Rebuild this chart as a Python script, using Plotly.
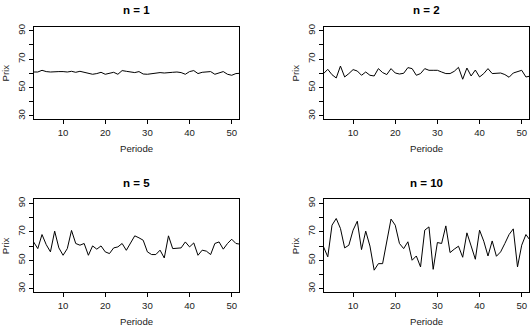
import plotly.graph_objects as go

periode = list(range(3, 53))

prix_n1 = [60.9, 60.9, 62.1, 61.2, 60.9, 61.2, 61.2, 61.2, 60.9, 61.4,
           60.7, 61.4, 60.7, 60.0, 59.3, 59.8, 60.7, 59.3, 59.8, 60.7,
           59.3, 61.9, 61.4, 60.9, 60.5, 61.2, 59.5, 59.3, 59.8, 60.0,
           60.5, 60.2, 60.2, 60.7, 60.9, 60.5, 59.3, 61.2, 61.9, 59.8,
           60.7, 61.2, 61.2, 59.3, 60.2, 61.2, 59.3, 58.6, 59.8, 60.0]

prix_n2 = [59.8, 62.8, 59.0, 56.7, 65.1, 57.4, 59.8, 62.6, 61.6, 58.6,
           60.9, 58.6, 58.1, 63.3, 60.5, 59.1, 63.3, 60.2, 59.5, 60.0,
           64.0, 63.3, 58.6, 59.8, 63.3, 62.1, 62.1, 62.1, 60.9, 59.8,
           59.8, 61.4, 64.2, 55.8, 63.7, 58.1, 62.3, 57.4, 59.8, 63.3,
           59.8, 60.2, 60.2, 59.1, 57.2, 60.2, 61.4, 62.1, 57.4, 58.0]

prix_n5 = [62.9, 58.2, 68.1, 61.0, 55.9, 70.5, 58.7, 53.5, 58.2, 71.0,
           61.8, 60.6, 61.8, 53.5, 60.1, 57.8, 60.1, 55.9, 54.7, 58.7,
           59.4, 61.8, 57.0, 61.8, 67.2, 65.8, 64.1, 55.9, 54.0, 54.0,
           57.1, 51.6, 67.2, 58.2, 58.2, 58.7, 62.9, 59.4, 62.2, 53.5,
           57.1, 56.4, 54.0, 61.8, 62.9, 57.8, 61.8, 64.8, 61.8, 61.3]

prix_n10 = [59.4, 52.4, 74.7, 79.4, 72.4, 58.7, 60.6, 71.2, 77.5, 57.5,
            70.5, 60.0, 43.0, 47.6, 47.6, 63.0, 79.0, 74.7, 61.8, 58.2,
            63.0, 50.0, 53.0, 45.3, 71.2, 73.5, 43.6, 62.5, 61.8, 74.2,
            55.4, 57.8, 59.9, 52.1, 69.3, 60.1, 50.7, 71.2, 63.4, 53.0,
            63.6, 52.8, 55.9, 61.8, 68.1, 72.1, 45.3, 60.6, 68.1, 64.0]

titres = ["n = 1", "n = 2", "n = 5", "n = 10"]
series = [prix_n1, prix_n2, prix_n5, prix_n10]
x_ticks = [10, 20, 30, 40, 50]
y_ticks = [30, 40, 50, 60, 70, 80, 90]
y_labels = ["30", "", "50", "", "70", "", "90"]

W, H = 530, 329
# panel boxes in pixels: (left, right, top, bottom)
boxes = [(34, 239.3, 24, 117.3), (324, 529.3, 24, 117.3),
         (34, 239.3, 198.3, 291.7), (324, 529.3, 198.3, 291.7)]

FONT = "Liberation Sans, Arial, sans-serif"
fig = go.Figure()
annotations = []
layout = {}
for i, (ys, titre, (l, r, t, b)) in enumerate(zip(series, titres, boxes)):
    k = "" if i == 0 else str(i + 1)
    fig.add_trace(go.Scatter(x=periode, y=ys, mode="lines",
                             line=dict(color="black", width=1),
                             xaxis="x" + k, yaxis="y" + k,
                             showlegend=False, hoverinfo="skip"))
    layout["xaxis" + k] = dict(domain=[l / W, r / W], anchor="y" + k,
                               range=[3.1, 51.8], tickvals=x_ticks,
                               ticks="outside", ticklen=4, tickwidth=1,
                               tickcolor="black", showline=True, mirror=True,
                               linecolor="black", linewidth=1, showgrid=False,
                               zeroline=False,
                               tickfont=dict(family=FONT, size=9.6, color="#222"))
    layout["yaxis" + k] = dict(domain=[1 - b / H, 1 - t / H], anchor="x" + k,
                               range=[27.6, 92.8], tickvals=y_ticks,
                               ticktext=y_labels, tickangle=-90,
                               ticks="outside", ticklen=4, tickwidth=1,
                               tickcolor="black", showline=True, mirror=True,
                               linecolor="black", linewidth=1, showgrid=False,
                               zeroline=False,
                               tickfont=dict(family=FONT, size=9.6, color="#222"))
    cx = (l + r) / 2 / W
    annotations.append(dict(text="<b>" + titre + "</b>", x=cx, y=1 - (t - 16.7) / H,
                            xref="paper", yref="paper", showarrow=False,
                            xanchor="center", yanchor="middle",
                            font=dict(family=FONT, size=11.5, color="black")))
    annotations.append(dict(text="Periode", x=cx, y=1 - (b + 29.5) / H,
                            xref="paper", yref="paper", showarrow=False,
                            xanchor="center", yanchor="middle",
                            font=dict(family=FONT, size=9.6, color="#222")))
    annotations.append(dict(text="Prix", x=(l - 28.5) / W, y=1 - (t + b) / 2 / H,
                            xref="paper", yref="paper", showarrow=False,
                            textangle=-90, xanchor="center", yanchor="middle",
                            font=dict(family=FONT, size=9.6, color="#222")))

fig.update_layout(width=W, height=H, margin=dict(l=0, r=0, t=0, b=0),
                  paper_bgcolor="white", plot_bgcolor="white",
                  annotations=annotations, **layout)
fig.write_html("out.html")
